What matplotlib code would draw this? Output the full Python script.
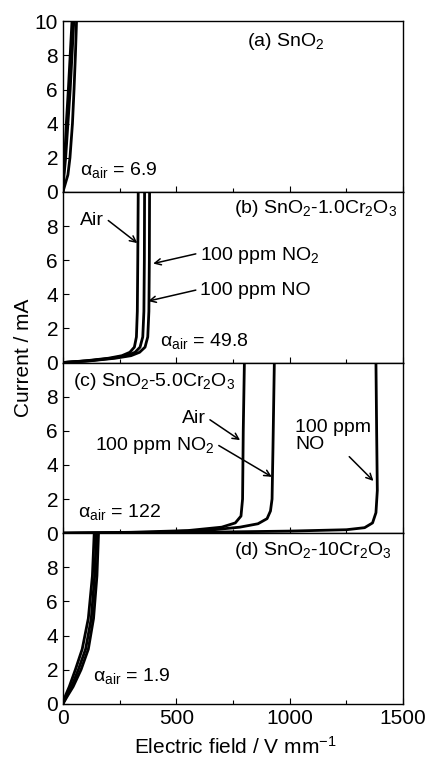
import matplotlib
matplotlib.use("Agg")
import matplotlib.pyplot as plt
from matplotlib.ticker import MultipleLocator

plt.rcParams['font.family'] = ['Liberation Sans', 'DejaVu Sans']
plt.rcParams['mathtext.fontset'] = 'custom'
plt.rcParams['mathtext.rm'] = 'Liberation Sans'
plt.rcParams['mathtext.it'] = 'Liberation Sans:italic'

# current levels (mA) shared by the steep curves
I_steep = [0, 1, 2, 4, 6, 8, 10]

# (a) SnO2
a_air = [0, 3, 8, 15, 24, 32, 40]
a_no2 = [0, 5, 12, 22, 32, 40, 48]
a_no = [0, 22, 31, 42, 49, 55, 60]

# (b) SnO2-1.0Cr2O3
b_I = [0, 0.1, 0.25, 0.4, 0.6, 0.9, 1.5, 3, 6, 10]
b_air = [0, 100, 200, 260, 295, 315, 324, 328, 330, 332]
b_no2 = [0, 110, 215, 280, 318, 340, 352, 357, 359, 360]
b_no = [0, 120, 230, 300, 338, 362, 374, 379, 381, 382]

# (c) SnO2-5.0Cr2O3
c_air_E = [0, 300, 550, 700, 760, 785, 792, 795, 800]
c_air_I = [0, 0.05, 0.15, 0.35, 0.6, 1.0, 2, 6, 10]
c_no2_E = [0, 400, 650, 780, 860, 900, 915, 922, 926, 932]
c_no2_I = [0, 0.05, 0.18, 0.35, 0.55, 0.85, 1.3, 2, 5, 10]
c_no_E = [0, 600, 1000, 1250, 1330, 1365, 1380, 1386, 1383, 1380]
c_no_I = [0, 0.05, 0.12, 0.2, 0.32, 0.6, 1.2, 2.5, 6, 10]

# (d) SnO2-10Cr2O3
d_I = [0, 0.5, 1, 2, 3.2, 5, 7.5, 10]
d_air = [0, 12, 28, 55, 85, 112, 130, 138]
d_no2 = [0, 18, 38, 68, 100, 125, 140, 148]
d_no = [0, 22, 45, 80, 112, 135, 150, 157]

fig, axes = plt.subplots(4, 1, figsize=(4.28, 7.6), dpi=100, sharex=True)
fig.subplots_adjust(left=0.147, right=0.942, bottom=0.074, top=0.972, hspace=0)

lw = 2.0
ax = axes[0]
ax.plot(a_air, I_steep, 'k-', lw=lw)
ax.plot(a_no2, I_steep, 'k-', lw=lw)
ax.plot(a_no, I_steep, 'k-', lw=lw)

ax = axes[1]
ax.plot(b_air, b_I, 'k-', lw=lw)
ax.plot(b_no2, b_I, 'k-', lw=lw)
ax.plot(b_no, b_I, 'k-', lw=lw)

ax = axes[2]
ax.plot(c_air_E, c_air_I, 'k-', lw=lw)
ax.plot(c_no2_E, c_no2_I, 'k-', lw=lw)
ax.plot(c_no_E, c_no_I, 'k-', lw=lw)

ax = axes[3]
ax.plot(d_air, d_I, 'k-', lw=lw)
ax.plot(d_no2, d_I, 'k-', lw=lw)
ax.plot(d_no, d_I, 'k-', lw=lw)

for i, ax in enumerate(axes):
    ax.set_xlim(0, 1500)
    ax.set_ylim(0, 10)
    ax.xaxis.set_major_locator(MultipleLocator(500))
    ax.xaxis.set_minor_locator(MultipleLocator(250))
    ax.yaxis.set_major_locator(MultipleLocator(2))
    ax.tick_params(which='both', direction='in', labelsize=15, top=False, right=False)
    ax.tick_params(which='major', length=4, width=0.8)
    ax.tick_params(which='minor', length=3, width=0.8)
    if i > 0:
        ax.set_yticks([0, 2, 4, 6, 8])
    for s in ax.spines.values():
        s.set_linewidth(1.0)

fs_lab = 14
fs_txt = 14
arr = dict(arrowstyle='->', color='k', lw=1.1, mutation_scale=11, shrinkA=1, shrinkB=0)

# panel texts
axes[0].text(810, 8.8, '(a) SnO$_2$', fontsize=fs_lab, va='center')
axes[0].text(75, 1.3, r'α$_\mathrm{air}$ = 6.9', fontsize=fs_txt, va='center')

axes[1].text(1474, 9.0, '(b) SnO$_2$-1.0Cr$_2$O$_3$', fontsize=fs_lab, va='center', ha='right')
axes[1].annotate('Air', xy=(328, 7.0), xytext=(130, 8.3), fontsize=fs_txt, ha='center', va='center',
                 arrowprops=dict(arr, relpos=(1, 0.7)))
axes[1].annotate('100 ppm NO$_2$', xy=(398, 5.8), xytext=(604, 6.3), fontsize=fs_txt, va='center',
                 arrowprops=dict(arr, relpos=(0, 0.6)))
axes[1].annotate('100 ppm NO', xy=(376, 3.6), xytext=(604, 4.2), fontsize=fs_txt, va='center',
                 arrowprops=dict(arr, relpos=(0, 0.6)))
axes[1].text(428, 1.25, r'α$_\mathrm{air}$ = 49.8', fontsize=fs_txt, va='center')

axes[2].text(45, 8.9, '(c) SnO$_2$-5.0Cr$_2$O$_3$', fontsize=fs_lab, va='center')
axes[2].annotate('Air', xy=(781, 5.45), xytext=(578, 6.7), fontsize=fs_txt, ha='center', va='center',
                 arrowprops=dict(arr, relpos=(1, 0.6)))
axes[2].annotate('100 ppm NO$_2$', xy=(921, 3.3), xytext=(406, 5.15), fontsize=fs_txt, ha='center', va='center',
                 arrowprops=dict(arr, relpos=(1, 0.6)))
axes[2].annotate('100 ppm\nNO', xy=(1369, 3.06), xytext=(1024, 5.7), fontsize=fs_txt, va='center',
                 linespacing=1.0, arrowprops=dict(arr, relpos=(0.55, 0.25)))
axes[2].text(66, 1.25, r'α$_\mathrm{air}$ = 122', fontsize=fs_txt, va='center')

axes[3].text(1452, 9.0, '(d) SnO$_2$-10Cr$_2$O$_3$', fontsize=fs_lab, va='center', ha='right')
axes[3].text(132, 1.6, r'α$_\mathrm{air}$ = 1.9', fontsize=fs_txt, va='center')

fig.text(0.055, 0.529, 'Current / mA', rotation=90, fontsize=15, ha='center', va='center')
fig.text(0.549, 0.017, 'Electric field / V mm$^{-1}$', fontsize=15, ha='center', va='center')

fig.savefig('out.png', dpi=100)
